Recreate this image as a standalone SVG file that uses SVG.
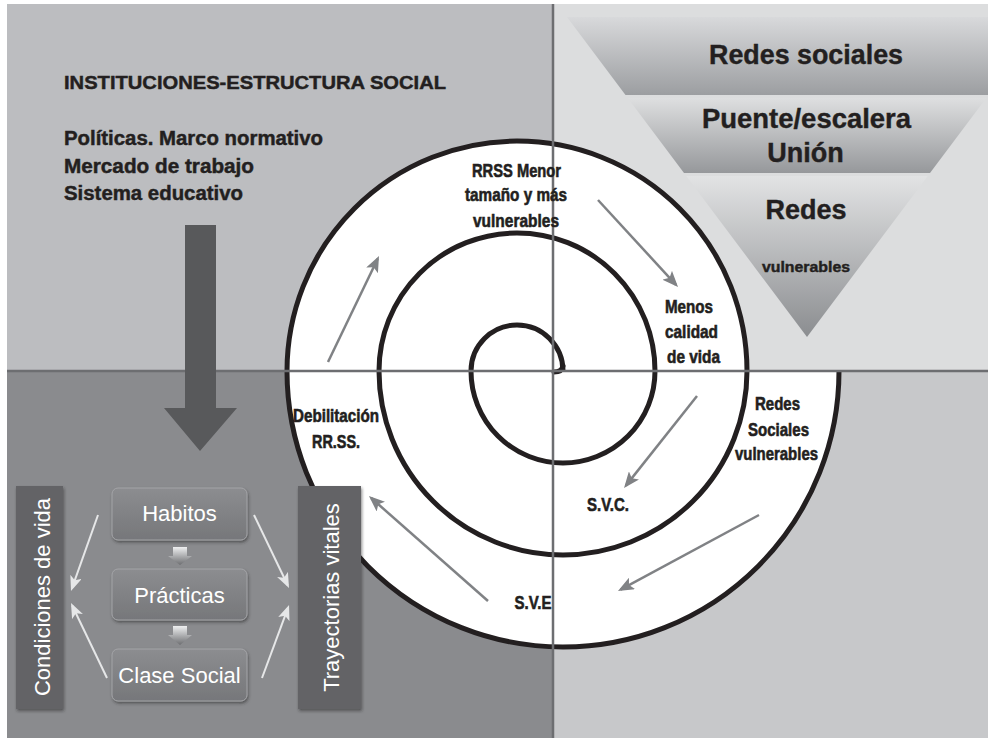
<svg xmlns="http://www.w3.org/2000/svg" width="988" height="738" viewBox="0 0 988 738">
<defs>
<style>
.t{font-family:"Liberation Sans",Arial,sans-serif;fill:#231f20;font-weight:bold}
.hv{stroke:#231f20;stroke-width:0.45}
.sp{font-size:18.5px;text-anchor:middle;stroke:#231f20;stroke-width:0.6}
.tri{font-size:27px;text-anchor:middle;stroke:#231f20;stroke-width:0.4}
.box{fill:url(#boxg);stroke:#a3a4a7;stroke-width:1;filter:url(#sh)}
.bar{fill:#636466;filter:url(#sh)}
.wt{font-family:"Liberation Sans",Arial,sans-serif;fill:#ffffff;font-size:22px;text-anchor:middle}
.ga{stroke:#808285;stroke-width:2.5;fill:none;marker-end:url(#ah)}
.wa{stroke:#e6e7e8;stroke-width:2;fill:none;marker-end:url(#wh)}
.ax{stroke:#6d6e71;stroke-width:2.5;fill:none}
.sa{fill:url(#smallg)}
</style>
<linearGradient id="b1" x1="0" y1="0" x2="0" y2="1"><stop offset="0" stop-color="#d8d9db"/><stop offset="1" stop-color="#9c9ea1"/></linearGradient>
<linearGradient id="b2" x1="0" y1="0" x2="0" y2="1"><stop offset="0" stop-color="#dedfe0"/><stop offset="1" stop-color="#96989b"/></linearGradient>
<linearGradient id="b3" x1="0" y1="0" x2="0" y2="1"><stop offset="0" stop-color="#e2e3e4"/><stop offset="1" stop-color="#8b8d90"/></linearGradient>
<linearGradient id="boxg" x1="0" y1="0" x2="0" y2="1"><stop offset="0" stop-color="#8c8d90"/><stop offset="1" stop-color="#76777a"/></linearGradient>
<linearGradient id="smallg" x1="0" y1="0" x2="0" y2="1"><stop offset="0" stop-color="#eeeff0"/><stop offset="1" stop-color="#6d6e71"/></linearGradient>
<filter id="sh" x="-20%" y="-20%" width="140%" height="140%"><feDropShadow dx="1" dy="2" stdDeviation="1.5" flood-color="#2a2a2a" flood-opacity="0.55"/></filter>
<marker id="ah" markerUnits="userSpaceOnUse" markerWidth="16" markerHeight="13" viewBox="0 0 16 13" refX="13" refY="6.5" orient="auto"><path d="M0,0 L16,6.5 L0,13 L3.5,6.5 Z" fill="#808285"/></marker>
<marker id="wh" markerUnits="userSpaceOnUse" markerWidth="15" markerHeight="12" viewBox="0 0 15 12" refX="12" refY="6" orient="auto"><path d="M0,0 L15,6 L0,12 L3.5,6 Z" fill="#e6e7e8"/></marker>
</defs>

<g id="background">
<rect x="0" y="0" width="988" height="738" fill="#ffffff"/>
<rect x="7" y="4" width="546" height="367" fill="#bcbdc0"/>
<rect x="553" y="4" width="435" height="367" fill="#dcddde"/>
<rect x="7" y="371" width="546" height="367" fill="#8a8b8e"/>
<rect x="553" y="371" width="435" height="367" fill="#c7c8ca"/>
</g>

<g id="triangle">
<polygon points="567,17 1047,17 988.5,95 625.5,95" fill="url(#b1)"/>
<polygon points="627.75,98 986.25,98 930,173 684,173" fill="url(#b2)"/>
<polygon points="686.25,176 927.75,176 807,337" fill="url(#b3)"/>
<text class="t tri" x="806" y="64" textLength="194" lengthAdjust="spacingAndGlyphs">Redes sociales</text>
<text class="t tri" x="806.5" y="128" textLength="209" lengthAdjust="spacingAndGlyphs">Puente/escalera</text>
<text class="t tri" x="805.5" y="162">Unión</text>
<text class="t tri" x="806" y="219">Redes</text>
<text class="t hv" x="806" y="272" font-size="15" text-anchor="middle" textLength="88" lengthAdjust="spacingAndGlyphs">vulnerables</text>
</g>

<g id="spiral">
<path d="M287,371 A230,230 0 0 1 747,371 L839,371 A276,276 0 0 1 287,371 Z" fill="#ffffff"/>
<path d="M563,371 A46,46 0 0 0 471,371 A92,92 0 0 0 655,371 A138,138 0 0 0 379,371 A184,184 0 0 0 747,371 A230,230 0 0 0 287,371 A276,276 0 0 0 839,371" fill="none" stroke="#231f20" stroke-width="5"/>
<path d="M554,372 Q562,372 563,366" fill="none" stroke="#231f20" stroke-width="5" stroke-linecap="round"/>
</g>

<g id="axes">
<line class="ax" x1="553" y1="4" x2="553" y2="738"/>
<line class="ax" x1="7" y1="371" x2="988" y2="371"/>
</g>

<g id="institutions">
<text class="t hv" x="64" y="89" font-size="18.5" textLength="382" lengthAdjust="spacingAndGlyphs">INSTITUCIONES-ESTRUCTURA SOCIAL</text>
<text class="t hv" x="64" y="145" font-size="19.5" textLength="259" lengthAdjust="spacingAndGlyphs">Políticas. Marco normativo</text>
<text class="t hv" x="64" y="173" font-size="19.5" textLength="190" lengthAdjust="spacingAndGlyphs">Mercado de trabajo</text>
<text class="t hv" x="64" y="200" font-size="19.5" textLength="179" lengthAdjust="spacingAndGlyphs">Sistema educativo</text>
</g>

<g id="spiral-labels">
<text class="t sp" x="516.5" y="177" textLength="89" lengthAdjust="spacingAndGlyphs">RRSS Menor</text>
<text class="t sp" x="516" y="201" textLength="102" lengthAdjust="spacingAndGlyphs">tamaño y más</text>
<text class="t sp" x="516" y="227" textLength="86" lengthAdjust="spacingAndGlyphs">vulnerables</text>
<text class="t sp" x="689" y="313" textLength="48" lengthAdjust="spacingAndGlyphs">Menos</text>
<text class="t sp" x="691.5" y="338" textLength="53" lengthAdjust="spacingAndGlyphs">calidad</text>
<text class="t sp" x="693.5" y="363" textLength="53" lengthAdjust="spacingAndGlyphs">de vida</text>
<text class="t sp" x="336" y="422" textLength="86" lengthAdjust="spacingAndGlyphs">Debilitación</text>
<text class="t sp" x="336" y="448" textLength="48" lengthAdjust="spacingAndGlyphs">RR.SS.</text>
<text class="t sp" x="777.5" y="410" textLength="45" lengthAdjust="spacingAndGlyphs">Redes</text>
<text class="t sp" x="778.5" y="436" textLength="61" lengthAdjust="spacingAndGlyphs">Sociales</text>
<text class="t sp" x="776.5" y="460" textLength="83" lengthAdjust="spacingAndGlyphs">vulnerables</text>
<text class="t sp" x="608" y="511" textLength="42" lengthAdjust="spacingAndGlyphs">S.V.C.</text>
<text class="t sp" x="533" y="609" textLength="37" lengthAdjust="spacingAndGlyphs">S.V.E</text>
</g>

<g id="node-condiciones">
<rect class="bar" x="16" y="486" width="47" height="223"/>
<text class="wt" transform="translate(50,597) rotate(-90)">Condiciones de vida</text>
</g>
<g id="node-trayectorias">
<rect class="bar" x="298" y="486" width="63" height="223"/>
<text class="wt" transform="translate(339,597.5) rotate(-90)">Trayectorias vitales</text>
</g>
<g id="node-habitos">
<rect class="box" x="112" y="488" width="135" height="52" rx="6"/>
<text class="wt" x="179.5" y="521">Habitos</text>
</g>
<g id="node-practicas">
<rect class="box" x="112" y="569" width="135" height="51" rx="6"/>
<text class="wt" x="179.5" y="603">Prácticas</text>
</g>
<g id="node-clase">
<rect class="box" x="112" y="649" width="135" height="52" rx="6"/>
<text class="wt" x="179.5" y="683">Clase Social</text>
</g>

<g id="connectors">
<polygon points="185,225 216,225 216,408 237,408 200,451 164,408 185,408" fill="#58595b"/>
<polygon class="sa" points="173,547 187,547 187,556 192,556 180,565 168,556 173,556"/>
<polygon class="sa" points="173,626 187,626 187,635 192,635 180,645 168,635 173,635"/>
<line class="ga" x1="328" y1="362" x2="377.7" y2="258.7"/>
<line class="ga" x1="598" y1="200" x2="676" y2="284.8"/>
<line class="ga" x1="697" y1="396" x2="625.9" y2="485.6"/>
<line class="ga" x1="759" y1="515" x2="620.6" y2="589.6"/>
<line class="ga" x1="488" y1="601" x2="371.2" y2="498"/>
<line class="wa" x1="98" y1="515" x2="72" y2="588.2"/>
<line class="wa" x1="107" y1="678" x2="72.3" y2="605.7"/>
<line class="wa" x1="254" y1="515" x2="287.7" y2="585.3"/>
<line class="wa" x1="262" y1="678" x2="288" y2="607.8"/>
</g>
</svg>
